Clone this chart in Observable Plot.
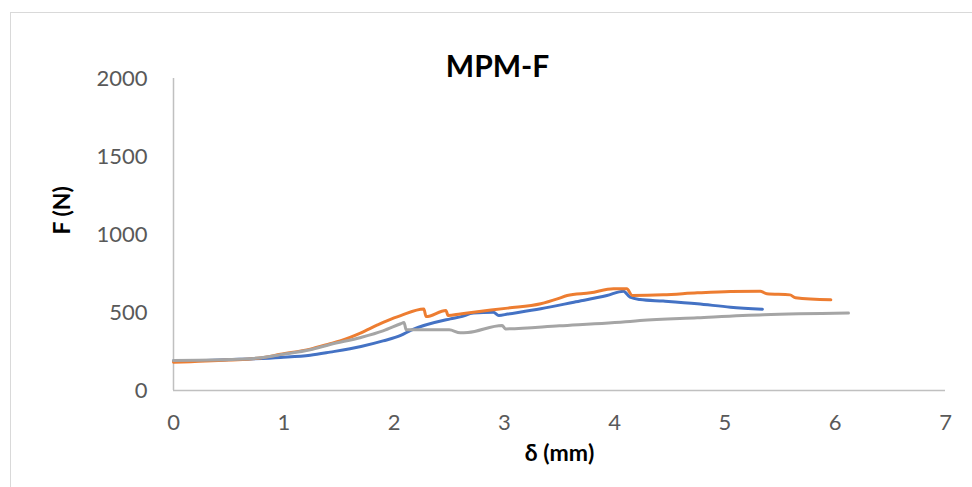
<!DOCTYPE html>
<html>
<head>
<meta charset="utf-8">
<script src="https://cdn.jsdelivr.net/npm/d3@7"></script>
<script src="https://cdn.jsdelivr.net/npm/@observablehq/plot@0.6"></script>
<style>
  html, body { margin: 0; padding: 0; background: #fff; }
  #wrap { position: relative; width: 972px; height: 487px; overflow: hidden; }
  #border { position: absolute; left: 10px; top: 12px; width: 980px; height: 500px; border: 1.5px solid #d9d9d9; box-sizing: border-box; }
  #chart { position: absolute; left: 0; top: 0; }
</style>
</head>
<body>
<div id="wrap"><div id="border"></div><div id="chart"></div></div>
<script>
const chartTitle = "MPM-F";
const xLabel = "δ (mm)";
const yLabel = "F (N)";
const xTicks = [0, 1, 2, 3, 4, 5, 6, 7];
const yTicks = [0, 500, 1000, 1500, 2000];
const seriesNames = ["Specimen 1", "Specimen 2", "Specimen 3"];
const seriesColors = ["#4472C4", "#ED7D31", "#A5A5A5"];

const delta1 = [0, 0.3, 0.6, 0.97, 1.24, 1.42, 1.7, 1.9, 2.06, 2.15, 2.51, 2.6, 2.72, 2.9, 2.95, 3.03, 3.33, 3.63, 3.93, 4.08, 4.14, 4.23, 4.44, 4.75, 5.05, 5.34];
const force1 = [190, 193, 200, 212, 226, 246, 282, 318, 353, 385, 459, 472, 496, 502, 481, 490, 524, 566, 609, 637, 598, 583, 573, 556, 534, 521];

const delta2 = [0, 0.5, 0.8, 0.97, 1.24, 1.42, 1.51, 1.7, 1.85, 2.0, 2.06, 2.27, 2.29, 2.47, 2.49, 2.6, 2.72, 3.03, 3.33, 3.48, 3.57, 3.78, 3.99, 4.11, 4.16, 4.44, 4.75, 5.05, 5.32, 5.38, 5.59, 5.64, 5.96];
const force2 = [181, 195, 210, 232, 265, 300, 318, 370, 420, 465, 480, 522, 474, 513, 481, 491, 502, 528, 556, 587, 609, 626, 652, 652, 609, 613, 626, 635, 637, 620, 613, 594, 581];

const delta3 = [0, 0.5, 0.79, 0.97, 1.24, 1.42, 1.7, 1.9, 2.06, 2.09, 2.11, 2.5, 2.6, 2.67, 2.98, 3.01, 3.5, 4.14, 4.23, 4.75, 5.35, 6.12];
const force3 = [192, 198, 210, 230, 261, 295, 340, 382, 428, 436, 389, 389, 370, 372, 417, 395, 415, 443, 448, 466, 485, 496];

const deltas = [delta1, delta2, delta3];
const forces = [force1, force2, force3];
const data = seriesNames.flatMap((name, i) => deltas[i].map((d, j) => ({series: name, delta: d, force: forces[i][j]})));

const plot = Plot.plot({
  width: 972,
  height: 487,
  marginLeft: 173,
  marginRight: 27,
  marginTop: 78,
  marginBottom: 97,
  style: {fontFamily: "Lato, sans-serif", fontSize: "22px", color: "#595959", background: "transparent"},
  x: {domain: [0, 7]},
  y: {domain: [0, 2000]},
  color: {domain: seriesNames, range: seriesColors},
  marks: [
    Plot.ruleY([0], {stroke: "#c0c0c0", strokeWidth: 1.5}),
    Plot.ruleX([0], {stroke: "#c0c0c0", strokeWidth: 1.5}),
    Plot.axisX({ticks: xTicks, tickSize: 0, tickPadding: 24, label: null, tickFormat: d3.format("d")}),
    Plot.axisY({ticks: yTicks, tickSize: 0, tickPadding: 26, label: null, tickFormat: d3.format("d")}),
    Plot.line(data, {x: "delta", y: "force", z: "series", stroke: "series", strokeWidth: 3, curve: "monotone-x", strokeLinejoin: "round", strokeLinecap: "round"}),
    Plot.text([chartTitle], {frameAnchor: "top", dx: -62, dy: -23, fontSize: 30, fontWeight: "bold", fill: "#000"}),
    Plot.text([xLabel], {frameAnchor: "bottom", dy: 70, fontSize: 23, fontWeight: "bold", fill: "#000"}),
    Plot.text([yLabel], {frameAnchor: "left", dx: -111, rotate: -90, fontSize: 23, fontWeight: "bold", fill: "#000"})
  ]
});
document.getElementById("chart").appendChild(plot);
</script>
</body>
</html>
